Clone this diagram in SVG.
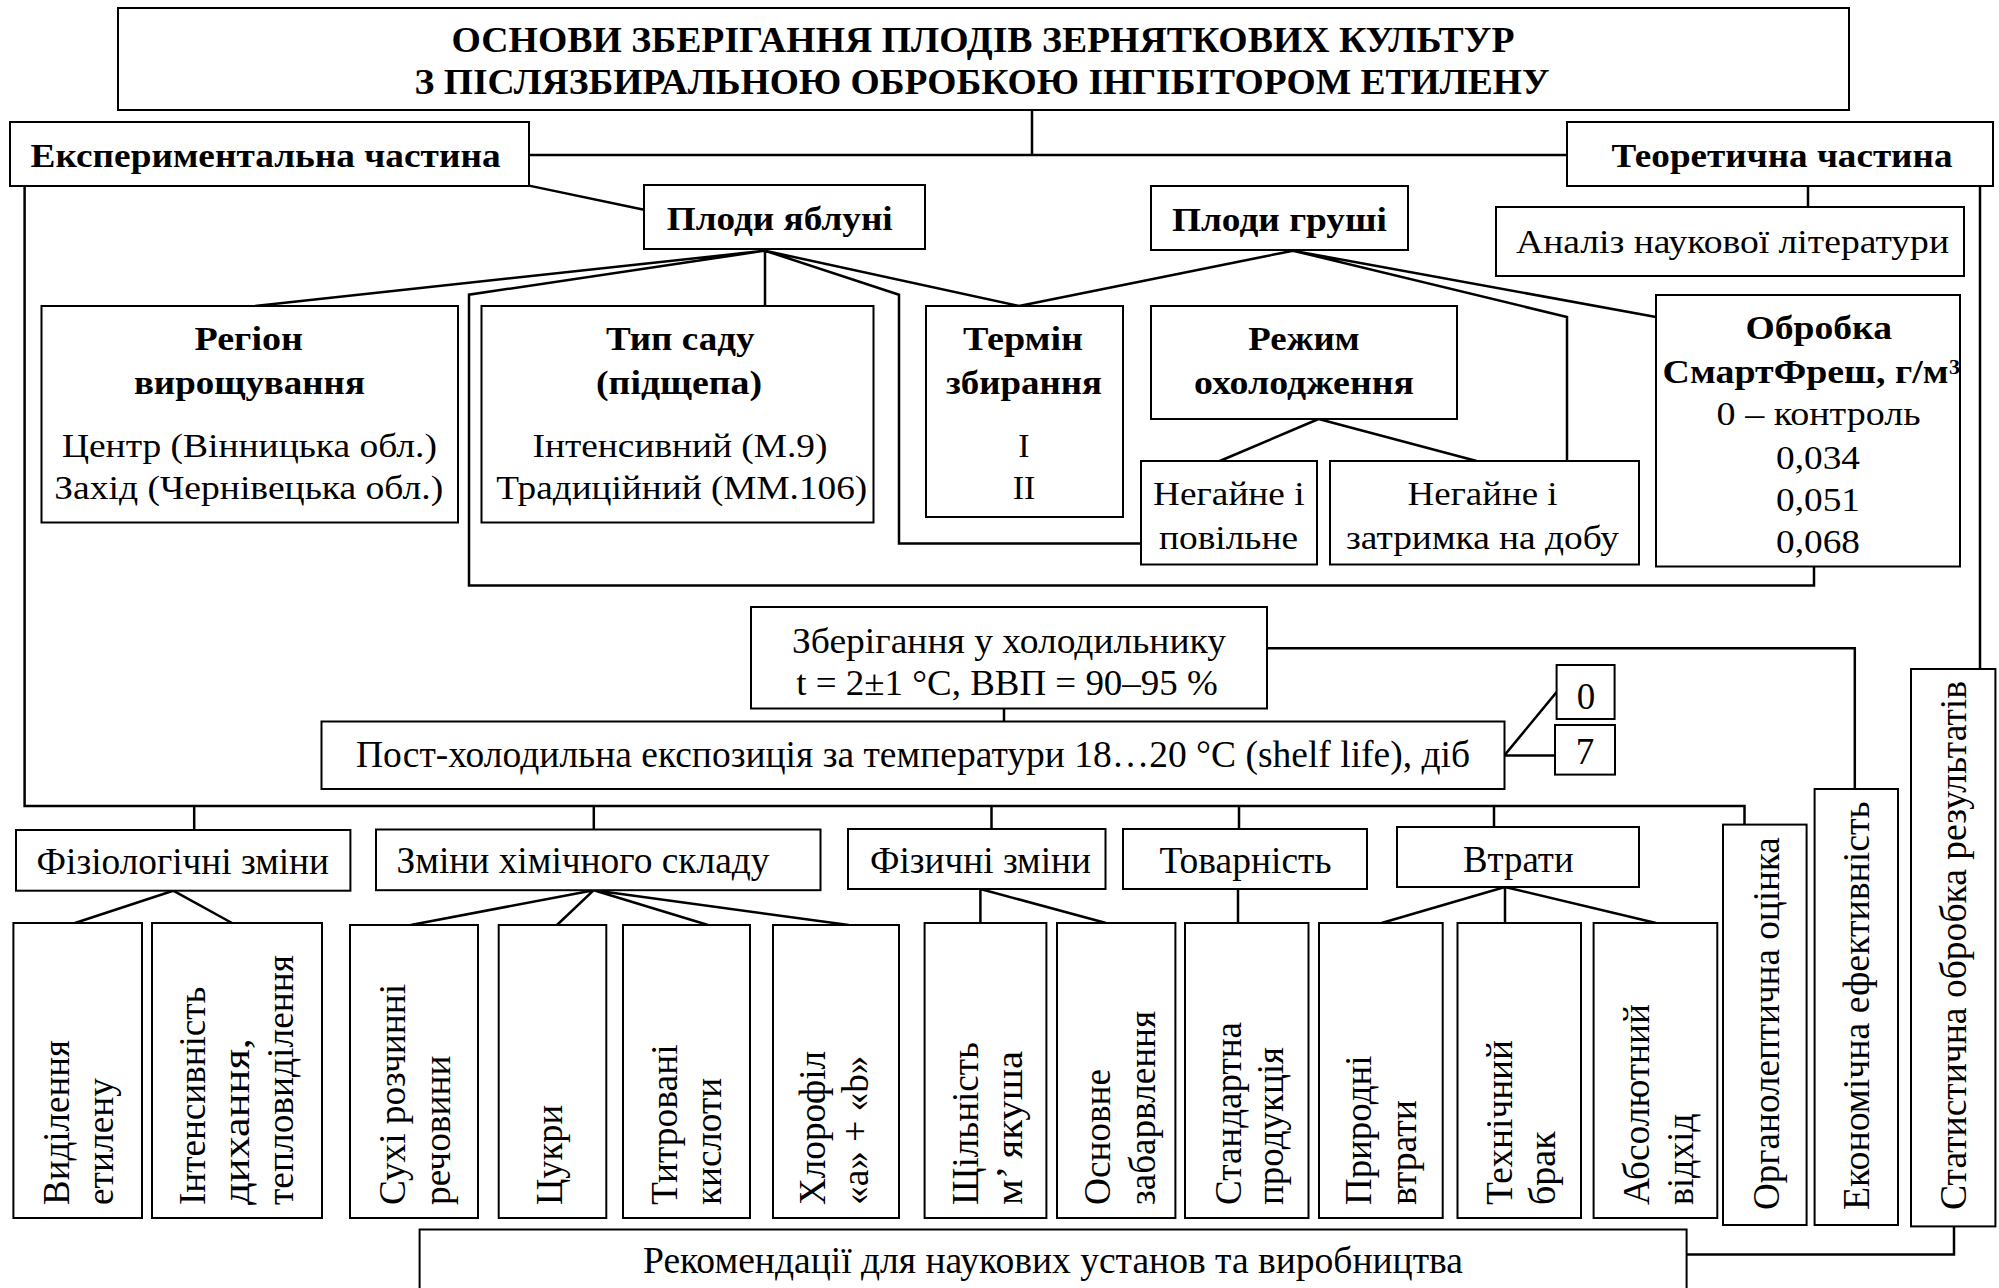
<svg xmlns="http://www.w3.org/2000/svg" width="1999" height="1288" viewBox="0 0 1999 1288">
<defs>
<style>
.bx{fill:#fff;stroke:#000;stroke-width:2}
.t{font-family:"Liberation Serif","Times New Roman",serif;font-size:34px;fill:#000}
.L{font-size:37px}
.T{font-size:35px}
.S{font-size:36px}
.sup{font-size:22px}
.m{text-anchor:middle}
.bd{font-weight:bold}
.cn{fill:none;stroke:#000;stroke-width:2.5}
</style>
</defs>
<rect width="1999" height="1288" fill="#fff"/>

<g id="connectors" class="cn">
<path d="M1032 110V155M529 155H1567"/>
<path d="M24.6 185.6V805.9H1744.5V824.6"/>
<path d="M194.2 805.9V830M593.8 805.9V829.5M991.5 805.9V829M1239 805.9V829M1494 805.9V827"/>
<path d="M529 185.6L644 209.7"/>
<path d="M765 250.7L255 306M765 250.7L469 294.7V585.5H1814V566.4M765 250.7V306M765 250.7L899 294.7V543.4H1141.4M765 250.7L1019 306"/>
<path d="M1293 250.7L1019 306M1293 250.7L1567 317V461M1293 250.7L1656 317"/>
<path d="M1318.6 419L1219.8 461M1318.6 419L1476.6 461"/>
<path d="M1808 185.6V206.7M1980 185.6V669"/>
<path d="M1267.4 648.3H1854.8V789M1004 708.5V721.5"/>
<path d="M1504.4 755.4L1557 691.6M1504.4 755.4H1555"/>
<path d="M173.2 890.7L75 923M173.2 890.7L232 923"/>
<path d="M593.8 890.2L410.7 925M593.8 890.2L557 925M593.8 890.2L708 925M593.8 890.2L848.7 925"/>
<path d="M980.4 889L980.4 923M980.4 889L1106 923"/>
<path d="M1238 889V923"/>
<path d="M1505 887L1381.6 923M1505 887V923M1505 887L1656 923"/>
<path d="M1954 1226.4V1254.5H1686.5"/>
</g>

<g id="title">
<rect class="bx" x="118" y="8" width="1731" height="102"/>
<text class="t T bd m" x="983" y="52" textLength="1063" lengthAdjust="spacingAndGlyphs">ОСНОВИ ЗБЕРІГАННЯ ПЛОДІВ ЗЕРНЯТКОВИХ КУЛЬТУР</text>
<text class="t T bd m" x="982" y="94" textLength="1135" lengthAdjust="spacingAndGlyphs">З ПІСЛЯЗБИРАЛЬНОЮ ОБРОБКОЮ ІНГІБІТОРОМ ЕТИЛЕНУ</text>
</g>

<g id="exp">
<rect class="bx" x="10" y="122" width="519" height="64"/>
<text class="t bd m" x="265.6" y="166.5" textLength="470" lengthAdjust="spacingAndGlyphs">Експериментальна частина</text>
</g>
<g id="theor">
<rect class="bx" x="1567" y="122" width="426" height="64"/>
<text class="t bd m" x="1782" y="166.5" textLength="341" lengthAdjust="spacingAndGlyphs">Теоретична частина</text>
</g>
<g id="apple">
<rect class="bx" x="644" y="185" width="281" height="64"/>
<text class="t bd m" x="779.7" y="230" textLength="226" lengthAdjust="spacingAndGlyphs">Плоди яблуні</text>
</g>
<g id="pear">
<rect class="bx" x="1151" y="186" width="257" height="64"/>
<text class="t bd m" x="1279.4" y="231" textLength="215" lengthAdjust="spacingAndGlyphs">Плоди груші</text>
</g>
<g id="analysis">
<rect class="bx" x="1496" y="207" width="468" height="69"/>
<text class="t m" x="1732.5" y="252.6" textLength="433" lengthAdjust="spacingAndGlyphs">Аналіз наукової літератури</text>
</g>
<g id="region">
<rect class="bx" x="41.5" y="306" width="416.5" height="216.5"/>
<text class="t bd m" x="248.7" y="350" textLength="108.5" lengthAdjust="spacingAndGlyphs">Регіон</text>
<text class="t bd m" x="249.4" y="394" textLength="231" lengthAdjust="spacingAndGlyphs">вирощування</text>
<text class="t m" x="249.4" y="457" textLength="375" lengthAdjust="spacingAndGlyphs">Центр (Вінницька обл.)</text>
<text class="t m" x="248.7" y="499" textLength="389" lengthAdjust="spacingAndGlyphs">Захід (Чернівецька обл.)</text>
</g>
<g id="garden">
<rect class="bx" x="481.5" y="306" width="392" height="216.5"/>
<text class="t bd m" x="680.2" y="350" textLength="148.6" lengthAdjust="spacingAndGlyphs">Тип саду</text>
<text class="t bd m" x="679" y="394" textLength="166" lengthAdjust="spacingAndGlyphs">(підщепа)</text>
<text class="t m" x="680" y="457" textLength="295" lengthAdjust="spacingAndGlyphs">Інтенсивний (М.9)</text>
<text class="t m" x="681.7" y="499" textLength="371" lengthAdjust="spacingAndGlyphs">Традиційний (ММ.106)</text>
</g>
<g id="term">
<rect class="bx" x="926" y="306" width="197" height="211"/>
<text class="t bd m" x="1023" y="350" textLength="120" lengthAdjust="spacingAndGlyphs">Термін</text>
<text class="t bd m" x="1024" y="394" textLength="156" lengthAdjust="spacingAndGlyphs">збирання</text>
<text class="t m" x="1024" y="457">I</text>
<text class="t m" x="1024" y="499">II</text>
</g>
<g id="cooling">
<rect class="bx" x="1151" y="306" width="306" height="113"/>
<text class="t bd m" x="1304" y="350" textLength="111.5" lengthAdjust="spacingAndGlyphs">Режим</text>
<text class="t bd m" x="1304" y="394" textLength="220" lengthAdjust="spacingAndGlyphs">охолодження</text>
</g>
<g id="cool-slow">
<rect class="bx" x="1141" y="461" width="176" height="103.5"/>
<text class="t m" x="1228.8" y="505" textLength="151.5" lengthAdjust="spacingAndGlyphs">Негайне і</text>
<text class="t m" x="1228.5" y="549" textLength="139" lengthAdjust="spacingAndGlyphs">повільне</text>
</g>
<g id="cool-delay">
<rect class="bx" x="1330" y="461" width="309" height="103.5"/>
<text class="t m" x="1482.6" y="505" textLength="150" lengthAdjust="spacingAndGlyphs">Негайне і</text>
<text class="t m" x="1482.5" y="549" textLength="273" lengthAdjust="spacingAndGlyphs">затримка на добу</text>
</g>
<g id="treatment">
<rect class="bx" x="1656" y="295" width="304" height="271.5"/>
<text class="t bd m" x="1818.7" y="338.7" textLength="146.6" lengthAdjust="spacingAndGlyphs">Обробка</text>
<text class="t bd" x="1662.6" y="382.7" textLength="286" lengthAdjust="spacingAndGlyphs">СмартФреш, г/м</text>
<text class="t sup bd" x="1949" y="374">3</text>
<text class="t m" x="1818.6" y="424.8" textLength="204" lengthAdjust="spacingAndGlyphs">0 – контроль</text>
<text class="t m" x="1818" y="468.8" textLength="84" lengthAdjust="spacingAndGlyphs">0,034</text>
<text class="t m" x="1818" y="511" textLength="84" lengthAdjust="spacingAndGlyphs">0,051</text>
<text class="t m" x="1818" y="553" textLength="84" lengthAdjust="spacingAndGlyphs">0,068</text>
</g>
<g id="storage">
<rect class="bx" x="751" y="607" width="516" height="101.5"/>
<text class="t S m" x="1009" y="652.7" textLength="434" lengthAdjust="spacingAndGlyphs">Зберігання у холодильнику</text>
<text class="t S m" x="1007" y="695" textLength="421.5" lengthAdjust="spacingAndGlyphs">t = 2±1 °C, ВВП = 90–95 %</text>
</g>
<g id="shelf">
<rect class="bx" x="321.5" y="721.5" width="1183" height="67.5"/>
<text class="t L m" x="913" y="766.5" textLength="1114" lengthAdjust="spacingAndGlyphs">Пост-холодильна експозиція за температури 18…20 °C (shelf life), діб</text>
</g>
<g id="day0">
<rect class="bx" x="1556.6" y="665" width="58" height="54"/>
<text class="t L m" x="1586" y="708.5">0</text>
</g>
<g id="day7">
<rect class="bx" x="1555" y="725" width="60" height="49.6"/>
<text class="t L m" x="1585" y="764.3">7</text>
</g>

<g id="physiol">
<rect class="bx" x="16" y="830" width="334.4" height="60.7"/>
<text class="t L m" x="182.8" y="873.5" textLength="292.4" lengthAdjust="spacingAndGlyphs">Фізіологічні зміни</text>
</g>
<g id="chem">
<rect class="bx" x="376" y="829.5" width="444.5" height="60.7"/>
<text class="t L m" x="583" y="873" textLength="373" lengthAdjust="spacingAndGlyphs">Зміни хімічного складу</text>
</g>
<g id="physical">
<rect class="bx" x="848" y="829" width="257.5" height="60"/>
<text class="t L m" x="980.5" y="873" textLength="221" lengthAdjust="spacingAndGlyphs">Фізичні зміни</text>
</g>
<g id="market">
<rect class="bx" x="1123" y="829" width="244" height="60"/>
<text class="t L m" x="1245.5" y="873" textLength="172" lengthAdjust="spacingAndGlyphs">Товарність</text>
</g>
<g id="losses">
<rect class="bx" x="1397" y="827" width="242" height="60"/>
<text class="t L m" x="1518.3" y="872" textLength="110.6" lengthAdjust="spacingAndGlyphs">Втрати</text>
</g>

<g id="ethylene">
<rect class="bx" x="13.4" y="923" width="128.6" height="295"/>
<text class="t L" transform="rotate(-90 69 1205)" x="69" y="1205" textLength="165" lengthAdjust="spacingAndGlyphs">Виділення</text>
<text class="t L" transform="rotate(-90 113 1205)" x="113" y="1205" textLength="127" lengthAdjust="spacingAndGlyphs">етилену</text>
</g>
<g id="respiration">
<rect class="bx" x="152" y="923" width="170" height="295"/>
<text class="t L" transform="rotate(-90 205 1205)" x="205" y="1205" textLength="218.5" lengthAdjust="spacingAndGlyphs">Інтенсивність</text>
<text class="t L" transform="rotate(-90 249 1205)" x="249" y="1205" textLength="167" lengthAdjust="spacingAndGlyphs">дихання,</text>
<text class="t L" transform="rotate(-90 293 1205)" x="293" y="1205" textLength="250" lengthAdjust="spacingAndGlyphs">тепловиділення</text>
</g>
<g id="solids">
<rect class="bx" x="350" y="925" width="128" height="293"/>
<text class="t L" transform="rotate(-90 405 1205)" x="405" y="1205" textLength="221" lengthAdjust="spacingAndGlyphs">Сухі розчинні</text>
<text class="t L" transform="rotate(-90 450 1205)" x="450" y="1205" textLength="149.5" lengthAdjust="spacingAndGlyphs">речовини</text>
</g>
<g id="sugars">
<rect class="bx" x="498.7" y="925" width="107.6" height="293"/>
<text class="t L" transform="rotate(-90 562 1205)" x="562" y="1205" textLength="100" lengthAdjust="spacingAndGlyphs">Цукри</text>
</g>
<g id="acids">
<rect class="bx" x="623" y="925" width="127" height="293"/>
<text class="t L" transform="rotate(-90 677 1205)" x="677" y="1205" textLength="160.7" lengthAdjust="spacingAndGlyphs">Титровані</text>
<text class="t L" transform="rotate(-90 721 1205)" x="721" y="1205" textLength="127" lengthAdjust="spacingAndGlyphs">кислоти</text>
</g>
<g id="chlorophyll">
<rect class="bx" x="773" y="925" width="126" height="293"/>
<text class="t L" transform="rotate(-90 825 1205)" x="825" y="1205" textLength="154" lengthAdjust="spacingAndGlyphs">Хлорофіл</text>
<text class="t L" transform="rotate(-90 868 1205)" x="868" y="1205" textLength="149.5" lengthAdjust="spacingAndGlyphs">«a» + «b»</text>
</g>
<g id="firmness">
<rect class="bx" x="924.6" y="923" width="121.8" height="295"/>
<text class="t L" transform="rotate(-90 978 1205)" x="978" y="1205" textLength="163" lengthAdjust="spacingAndGlyphs">Щільність</text>
<text class="t L" transform="rotate(-90 1022 1205)" x="1022" y="1205" textLength="154" lengthAdjust="spacingAndGlyphs">м’ якуша</text>
</g>
<g id="colour">
<rect class="bx" x="1057" y="923" width="118.4" height="295"/>
<text class="t L" transform="rotate(-90 1110 1205)" x="1110" y="1205" textLength="136" lengthAdjust="spacingAndGlyphs">Основне</text>
<text class="t L" transform="rotate(-90 1155 1205)" x="1155" y="1205" textLength="194" lengthAdjust="spacingAndGlyphs">забарвлення</text>
</g>
<g id="standard">
<rect class="bx" x="1185" y="923" width="123.5" height="295"/>
<text class="t L" transform="rotate(-90 1240.5 1205)" x="1240.5" y="1205" textLength="183" lengthAdjust="spacingAndGlyphs">Стандартна</text>
<text class="t L" transform="rotate(-90 1283 1205)" x="1283" y="1205" textLength="158" lengthAdjust="spacingAndGlyphs">продукція</text>
</g>
<g id="natural">
<rect class="bx" x="1319" y="923" width="123.7" height="295"/>
<text class="t L" transform="rotate(-90 1371 1205)" x="1371" y="1205" textLength="149.5" lengthAdjust="spacingAndGlyphs">Природні</text>
<text class="t L" transform="rotate(-90 1416 1205)" x="1416" y="1205" textLength="105" lengthAdjust="spacingAndGlyphs">втрати</text>
</g>
<g id="technical">
<rect class="bx" x="1457.5" y="923" width="123.5" height="295"/>
<text class="t L" transform="rotate(-90 1511.5 1205)" x="1511.5" y="1205" textLength="165" lengthAdjust="spacingAndGlyphs">Технічний</text>
<text class="t L" transform="rotate(-90 1555 1205)" x="1555" y="1205" textLength="73.6" lengthAdjust="spacingAndGlyphs">брак</text>
</g>
<g id="absolute">
<rect class="bx" x="1593.6" y="923" width="123.7" height="295"/>
<text class="t L" transform="rotate(-90 1648.5 1205)" x="1648.5" y="1205" textLength="201" lengthAdjust="spacingAndGlyphs">Абсолютний</text>
<text class="t L" transform="rotate(-90 1693 1205)" x="1693" y="1205" textLength="91.5" lengthAdjust="spacingAndGlyphs">відхід</text>
</g>
<g id="organoleptic">
<rect class="bx" x="1723" y="824.6" width="83.6" height="400.4"/>
<text class="t L" transform="rotate(-90 1778.5 1210)" x="1778.5" y="1210" textLength="372.8" lengthAdjust="spacingAndGlyphs">Органолептична оцінка</text>
</g>
<g id="economic">
<rect class="bx" x="1814.6" y="789" width="83.4" height="436"/>
<text class="t L" transform="rotate(-90 1869 1210)" x="1869" y="1210" textLength="408.8" lengthAdjust="spacingAndGlyphs">Економічна ефективність</text>
</g>
<g id="statistics">
<rect class="bx" x="1911" y="669" width="84.4" height="557.4"/>
<text class="t L" transform="rotate(-90 1966 1210)" x="1966" y="1210" textLength="529" lengthAdjust="spacingAndGlyphs">Статистична обробка результатів</text>
</g>
<g id="recommendations">
<rect class="bx" x="419.6" y="1229.5" width="1267" height="70"/>
<text class="t L m" x="1053" y="1273" textLength="820" lengthAdjust="spacingAndGlyphs">Рекомендації для наукових установ та виробництва</text>
</g>
</svg>
